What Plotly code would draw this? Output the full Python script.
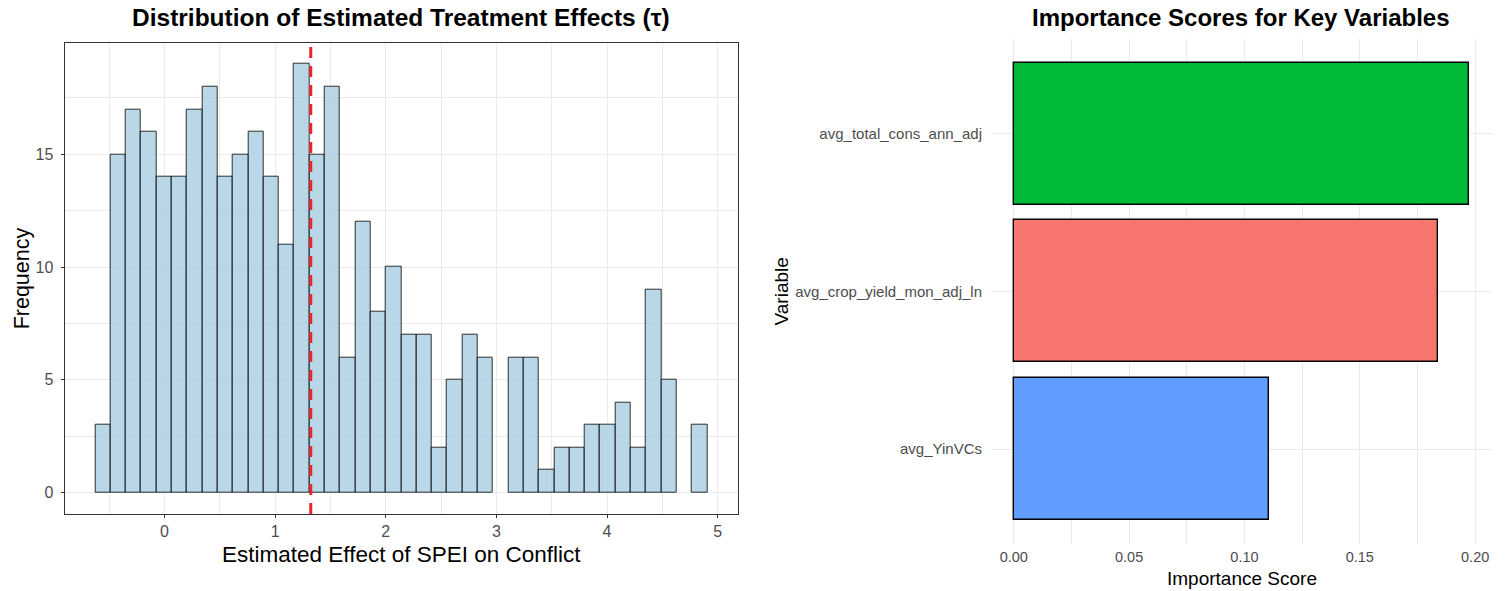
import plotly.graph_objects as go

W, H = 1505, 591

# Histogram of estimated treatment effects (tau)
counts = [3, 15, 17, 16, 14, 14, 17, 18, 14, 15, 16, 14, 11, 19, 15, 18, 6, 12, 8, 10,
          7, 7, 2, 5, 7, 6, 0, 6, 6, 1, 2, 2, 3, 3, 4, 2, 9, 5, 0, 3]
bin_start = -0.626
bin_width = 0.1383
mean_tau = 1.322

# Variable importance
variables = ["avg_YinVCs", "avg_crop_yield_mon_adj_ln", "avg_total_cons_ann_adj"]
importance = [0.1105, 0.1837, 0.1974]
var_colors = ["#619CFF", "#F8766D", "#00BA38"]

FONT = "Liberation Sans, Arial, sans-serif"
GRID = "#EBEBEB"


def fx(p):
    return p / W


def fy(p):
    return 1 - p / H


# bin centres from the bin layout; empty bins are not drawn
centers = [bin_start + (i + 0.5) * bin_width for i in range(len(counts))]
hx = [c for c, n in zip(centers, counts) if n > 0]
hy = [n for n in counts if n > 0]

fig = go.Figure()

fig.add_trace(go.Bar(
    x=hx, y=hy, width=bin_width,
    marker=dict(color="rgba(167,204,226,0.78)", line=dict(color="rgba(0,0,0,0.8)", width=1)),
    xaxis="x", yaxis="y", showlegend=False,
))

fig.add_trace(go.Bar(
    x=importance, y=variables, orientation="h", width=0.9,
    marker=dict(color=var_colors, line=dict(color="#000000", width=1.4)),
    xaxis="x2", yaxis="y2", showlegend=False,
))

L_LEFT, L_RIGHT, L_TOP, L_BOT = 64.7, 737.7, 42.7, 514
R_LEFT, R_RIGHT, R_TOP, R_BOT = 991, 1492, 39, 543.9

fig.update_layout(
    width=W, height=H,
    margin=dict(l=0, r=0, t=0, b=0),
    paper_bgcolor="white", plot_bgcolor="white",
    bargap=0,
    font=dict(family=FONT, color="#4D4D4D"),
    xaxis=dict(
        domain=[fx(L_LEFT), fx(L_RIGHT)], anchor="y",
        range=[-0.902, 5.181], tick0=0, dtick=1,
        showgrid=True, gridcolor=GRID, gridwidth=1.4,
        minor=dict(dtick=0.5, tick0=0, showgrid=True, gridcolor=GRID, gridwidth=0.8),
        zeroline=False, showline=True, mirror=True, linecolor="#333333", linewidth=1.2,
        ticks="outside", ticklen=3, tickcolor="#333333", tickwidth=1,
        tickfont=dict(size=16, color="#4D4D4D"),
    ),
    yaxis=dict(
        domain=[fy(L_BOT), fy(L_TOP)], anchor="x",
        range=[-0.95, 19.95], tick0=0, dtick=5,
        showgrid=True, gridcolor=GRID, gridwidth=1.4,
        minor=dict(dtick=2.5, tick0=0, showgrid=True, gridcolor=GRID, gridwidth=0.8),
        zeroline=False, showline=True, mirror=True, linecolor="#333333", linewidth=1.2,
        ticks="outside", ticklen=3, tickcolor="#333333", tickwidth=1,
        ticklabelstandoff=4,
        tickfont=dict(size=16, color="#4D4D4D"),
    ),
    xaxis2=dict(
        domain=[fx(R_LEFT), fx(R_RIGHT)], anchor="y2",
        range=[-0.00987, 0.2073], tick0=0, dtick=0.05, tickformat=".2f",
        showgrid=True, gridcolor=GRID, gridwidth=1.2,
        minor=dict(dtick=0.025, tick0=0, showgrid=True, gridcolor=GRID, gridwidth=0.7),
        zeroline=False, showline=False, ticks="",
        ticklabelstandoff=3,
        tickfont=dict(size=14.5, color="#4D4D4D"),
    ),
    yaxis2=dict(
        domain=[fy(R_BOT), fy(R_TOP)], anchor="x2",
        type="category", categoryorder="array", categoryarray=variables,
        range=[-0.6, 2.6],
        showgrid=True, gridcolor=GRID, gridwidth=1.2,
        zeroline=False, showline=False, ticks="",
        ticklabelstandoff=8,
        tickfont=dict(size=15, color="#4D4D4D"),
    ),
)

# mean effect marker
fig.add_shape(type="line", xref="x", yref="y domain", x0=mean_tau, x1=mean_tau, y0=0, y1=1,
              line=dict(color="#E8262B", width=3, dash="11px,8px"))

ann = [
    ("<b>Distribution of Estimated Treatment Effects (τ)</b>", (L_LEFT + L_RIGHT) / 2, 18, 24.5, "#000000", 0),
    ("Estimated Effect of SPEI on Conflict", (L_LEFT + L_RIGHT) / 2, 554, 22.5, "#000000", 0),
    ("Frequency", 22, (L_TOP + L_BOT) / 2, 21.5, "#000000", -90),
    ("<b>Importance Scores for Key Variables</b>", 1241, 18, 24, "#000000", 0),
    ("Importance Score", (R_LEFT + R_RIGHT) / 2, 578, 19, "#000000", 0),
    ("Variable", 781, 291.5, 19, "#000000", -90),
]
for text, x, y, size, color, ang in ann:
    fig.add_annotation(text=text, x=fx(x), y=fy(y), xref="paper", yref="paper",
                       xanchor="center", yanchor="middle", showarrow=False, textangle=ang,
                       font=dict(family=FONT, size=size, color=color))

fig.write_html("out.html")
